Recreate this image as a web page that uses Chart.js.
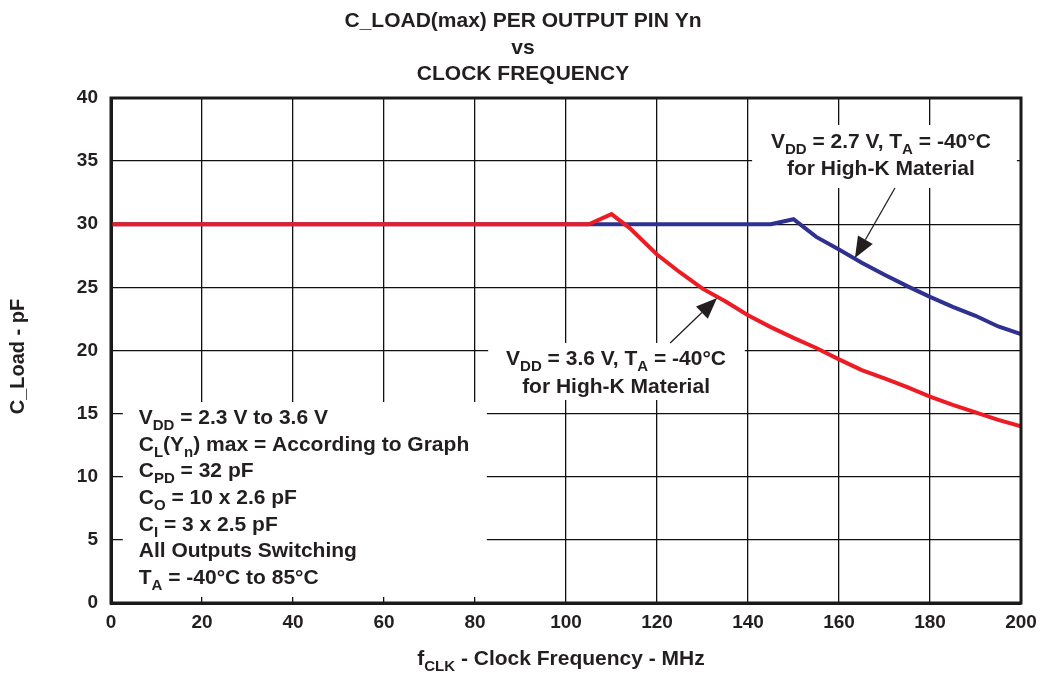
<!DOCTYPE html>
<html><head><meta charset="utf-8">
<script src="https://cdn.jsdelivr.net/npm/chart.js@4.4.1/dist/chart.umd.min.js"></script>
<style>html,body{margin:0;padding:0;background:#fff}canvas{display:block}</style>
</head><body>
<canvas id="c" width="1042" height="673"></canvas>
<script>
// ---- text ----
const titleLines = ['C_LOAD(max) PER OUTPUT PIN Yn', 'vs', 'CLOCK FREQUENCY'];
const xAxisTitle = 'f_{CLK} - Clock Frequency - MHz';
const yAxisTitle = 'C_Load - pF';
const noteLines = [
  'V_{DD} = 2.3 V to 3.6 V',
  'C_{L}(Y_{n}) max = According to Graph',
  'C_{PD} = 32 pF',
  'C_{O} = 10 x 2.6 pF',
  'C_{I} = 3 x 2.5 pF',
  'All Outputs Switching',
  'T_{A} = -40°C to 85°C'
];
const redLabel = ['V_{DD} = 3.6 V, T_{A} = -40°C', 'for High-K Material'];
const blueLabel = ['V_{DD} = 2.7 V, T_{A} = -40°C', 'for High-K Material'];

// ---- ticks ----
const xTickValues = [0, 20, 40, 60, 80, 100, 120, 140, 160, 180, 200];
const yTickValues = [0, 5, 10, 15, 20, 25, 30, 35, 40];

// ---- data ----
const freqRed = [0, 105, 110, 114, 120, 125, 130, 135, 140, 145, 150, 155, 160, 165, 170, 175, 180, 185, 190, 195, 200];
const loadRed = [30, 30, 30.8, 29.7, 27.6, 26.2, 24.9, 23.9, 22.8, 21.85, 21.0, 20.2, 19.3, 18.45, 17.8, 17.1, 16.35, 15.7, 15.1, 14.5, 14.0];
const freqBlue = [0, 145, 150, 155, 160, 165, 170, 175, 180, 185, 190, 195, 200];
const loadBlue = [30, 30, 30.4, 29.0, 28.0, 26.95, 26.0, 25.1, 24.25, 23.45, 22.75, 21.9, 21.3];

const FAMILY = '"Liberation Sans", Arial, Helvetica, sans-serif';
const INK = '#231F20';
const RED = '#ED1C24';
const BLUE = '#2E3192';

// ---- annotation layout (data units) ----
const layoutCfg = {
  noteBox: {x0: 2.6, x1: 82.6, y0: 15.92, y1: 0.48},
  noteX: 6.1, noteY0: 14.18, noteStep: 2.11,
  redBox: {x0: 82.9, x1: 139.3, y0: 20.6, y1: 16.08},
  redText: {x: 111.0, y: [18.85, 16.63]},
  redArrow: {from: [122.9, 20.6], to: [133.2, 24.16]},
  blueBox: {x0: 140.9, x1: 199.1, y0: 37.86, y1: 32.87},
  blueText: {x: 169.2, y: [36.04, 33.9]},
  blueArrow: {from: [172.3, 32.87], to: [163.5, 27.33]}
};

function parseRich(s) {
  const segs = []; const re = /_\{([^}]*)\}/g; let last = 0, m;
  while ((m = re.exec(s))) {
    if (m.index > last) segs.push({t: s.slice(last, m.index), sub: false});
    segs.push({t: m[1], sub: true}); last = re.lastIndex;
  }
  if (last < s.length) segs.push({t: s.slice(last), sub: false});
  return segs;
}
function drawRich(ctx, s, x, y, align, size) {
  const subSize = Math.round(size * 0.72), subOff = Math.round(size * 0.27);
  const segs = parseRich(s);
  let w = 0;
  for (const g of segs) { ctx.font = `bold ${g.sub ? subSize : size}px ${FAMILY}`; w += ctx.measureText(g.t).width; }
  let cx = align === 'center' ? x - w / 2 : x;
  ctx.textAlign = 'left'; ctx.textBaseline = 'alphabetic'; ctx.fillStyle = INK;
  for (const g of segs) {
    ctx.font = `bold ${g.sub ? subSize : size}px ${FAMILY}`;
    ctx.fillText(g.t, cx, y + (g.sub ? subOff : 0));
    cx += ctx.measureText(g.t).width;
  }
}
function arrow(ctx, x0, y0, x1, y1) {
  ctx.save();
  ctx.strokeStyle = INK; ctx.fillStyle = INK; ctx.lineWidth = 1.3;
  const a = Math.atan2(y1 - y0, x1 - x0), L = 21, H = 8.5;
  const bx = x1 - L * Math.cos(a), by = y1 - L * Math.sin(a);
  ctx.beginPath(); ctx.moveTo(x0, y0); ctx.lineTo(bx, by); ctx.stroke();
  ctx.beginPath(); ctx.moveTo(x1, y1);
  ctx.lineTo(bx + H * Math.sin(a), by - H * Math.cos(a));
  ctx.lineTo(bx - H * Math.sin(a), by + H * Math.cos(a));
  ctx.closePath(); ctx.fill();
  ctx.restore();
}

const annot = {
  id: 'annot',
  beforeDatasetsDraw(chart) {
    const ctx = chart.ctx, xs = chart.scales.x, ys = chart.scales.y;
    const X = v => xs.getPixelForValue(v), Y = v => ys.getPixelForValue(v);
    ctx.save();
    ctx.fillStyle = '#fff';
    for (const b of [layoutCfg.noteBox, layoutCfg.redBox, layoutCfg.blueBox]) {
      ctx.fillRect(X(b.x0), Y(b.y0), X(b.x1) - X(b.x0), Y(b.y1) - Y(b.y0));
    }
    noteLines.forEach((s, i) => drawRich(ctx, s, X(layoutCfg.noteX), Y(layoutCfg.noteY0 - i * layoutCfg.noteStep), 'left', 21));
    redLabel.forEach((s, i) => drawRich(ctx, s, X(layoutCfg.redText.x), Y(layoutCfg.redText.y[i]), 'center', 21));
    blueLabel.forEach((s, i) => drawRich(ctx, s, X(layoutCfg.blueText.x), Y(layoutCfg.blueText.y[i]), 'center', 21));
    ctx.restore();
  },
  afterDatasetsDraw(chart) {
    const ctx = chart.ctx, xs = chart.scales.x, ys = chart.scales.y;
    const X = v => xs.getPixelForValue(v), Y = v => ys.getPixelForValue(v);
    const r = layoutCfg.redArrow, b = layoutCfg.blueArrow;
    arrow(ctx, X(r.from[0]), Y(r.from[1]), X(r.to[0]), Y(r.to[1]));
    arrow(ctx, X(b.from[0]), Y(b.from[1]), X(b.to[0]), Y(b.to[1]));
  },
  afterDraw(chart) {
    const ctx = chart.ctx, a = chart.chartArea;
    ctx.save();
    ctx.strokeStyle = '#1a1a1a'; ctx.lineWidth = 3;
    ctx.strokeRect(a.left, a.top, a.right - a.left, a.bottom - a.top);
    // title (centred on the page)
    const pageCx = chart.width / 2 + 2;
    ctx.fillStyle = INK; ctx.textAlign = 'center'; ctx.textBaseline = 'alphabetic';
    ctx.font = `bold 21px ${FAMILY}`;
    const base = [27, 54, 80];
    titleLines.forEach((t, i) => ctx.fillText(t, pageCx, base[i]));
    // x axis title
    drawRich(ctx, xAxisTitle, (a.left + a.right) / 2 - 5, 665, 'center', 21);
    // y axis title
    ctx.save();
    ctx.translate(18.5, (a.top + a.bottom) / 2 + 6);
    ctx.rotate(-Math.PI / 2);
    ctx.fillStyle = INK; ctx.textAlign = 'center'; ctx.textBaseline = 'middle';
    ctx.font = `bold 20px ${FAMILY}`;
    ctx.fillText(yAxisTitle, 0, 0);
    ctx.restore();
    ctx.restore();
  }
};

const pts = (xs, ys) => xs.map((x, i) => ({x, y: ys[i]}));

new Chart(document.getElementById('c'), {
  type: 'scatter',
  data: {
    datasets: [
      {label: 'VDD = 3.6 V', data: pts(freqRed, loadRed), showLine: true, borderColor: RED, borderWidth: 4, pointRadius: 0, tension: 0, fill: false},
      {label: 'VDD = 2.7 V', data: pts(freqBlue, loadBlue), showLine: true, borderColor: BLUE, borderWidth: 4, pointRadius: 0, tension: 0, fill: false}
    ]
  },
  options: {
    responsive: false, animation: false,
    layout: {padding: {top: 98, right: 21, left: 0, bottom: 0}},
    plugins: {legend: {display: false}, title: {display: false}, tooltip: {enabled: false}},
    scales: {
      x: {
        type: 'linear', min: 0, max: 200,
        afterBuildTicks: s => { s.ticks = xTickValues.map(v => ({value: v})); },
        afterFit: s => { s.height = 70; s.paddingRight = 0; s.paddingLeft = 0; },
        ticks: {color: INK, font: {family: FAMILY, size: 19, weight: 'bold'}, padding: 8, maxRotation: 0, autoSkip: false},
        grid: {color: '#111', lineWidth: 1.3, drawTicks: false},
        border: {display: true, color: '#1a1a1a', width: 3}
      },
      y: {
        type: 'linear', min: 0, max: 40,
        afterBuildTicks: s => { s.ticks = yTickValues.map(v => ({value: v})); },
        afterFit: s => { s.width = 111; s.paddingTop = 0; s.paddingBottom = 0; },
        ticks: {color: INK, font: {family: FAMILY, size: 19, weight: 'bold'}, padding: 13, autoSkip: false},
        grid: {color: '#111', lineWidth: 1.3, drawTicks: false},
        border: {display: true, color: '#1a1a1a', width: 3}
      }
    }
  },
  plugins: [annot]
});
</script>
</body></html>
